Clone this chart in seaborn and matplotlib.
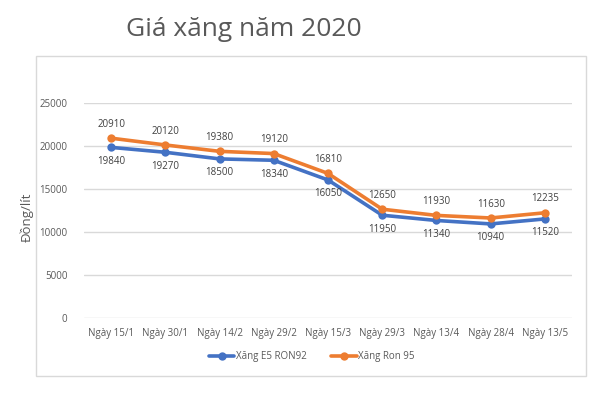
import matplotlib
matplotlib.use("Agg")
import matplotlib.pyplot as plt
import matplotlib.patches as patches
import seaborn as sns
import pandas as pd

dates = ["Ngày 15/1", "Ngày 30/1", "Ngày 14/2", "Ngày 29/2", "Ngày 15/3",
         "Ngày 29/3", "Ngày 13/4", "Ngày 28/4", "Ngày 13/5"]
e5_ron92 = [19840, 19270, 18500, 18340, 16050, 11950, 11340, 10940, 11520]
ron95 = [20910, 20120, 19380, 19120, 16810, 12650, 11930, 11630, 12235]
series_names = ["Xăng E5 RON92", "Xăng Ron 95"]
yticks = [0, 5000, 10000, 15000, 20000, 25000]

df = pd.DataFrame({
    "date": dates * 2,
    "value": e5_ron92 + ron95,
    "series": [series_names[0]] * len(dates) + [series_names[1]] * len(dates),
})

sns.set_theme(style="white")
plt.rcParams["font.family"] = ["Open Sans", "DejaVu Sans"]

text_color = "#595959"
colors = {series_names[0]: "#4472C4", series_names[1]: "#ED7D31"}

fig = plt.figure(figsize=(6.12, 4.13), dpi=100)
ax = fig.add_axes([84 / 612, 1 - 318 / 413, 488 / 612, 215 / 413])

sns.lineplot(data=df, x="date", y="value", hue="series", palette=colors,
             marker="o", markersize=6, markeredgewidth=0, linewidth=2.6,
             sort=False, ax=ax, legend=False)

ax.set_xlim(-0.5, len(dates) - 0.5)
ax.set_ylim(0, 25000)
ax.set_yticks(yticks)
ax.set_yticklabels([str(t) for t in yticks])
ax.yaxis.grid(True, color="#D9D9D9", linewidth=1)
ax.xaxis.grid(False)
for s in ax.spines.values():
    s.set_visible(False)
ax.tick_params(axis="both", length=0, labelsize=7, labelcolor=text_color)
ax.tick_params(axis="y", pad=12)
ax.tick_params(axis="x", pad=7)
ax.set_xlabel("")
ax.set_ylabel("")

for i, (a, b) in enumerate(zip(e5_ron92, ron95)):
    ax.annotate(str(b), (i, b), xytext=(0, 10), textcoords="offset points",
                ha="center", va="center", fontsize=7, color="#404040")
    ax.annotate(str(a), (i, a), xytext=(0, -10), textcoords="offset points",
                ha="center", va="center", fontsize=7, color="#404040")

fig.text(27 / 612, 1 - 217 / 413, "Đồng/lít", rotation=90, ha="center",
         va="center", fontsize=9.5, color=text_color)

fig.text(244 / 612, 1 - 30 / 413, "Giá xăng năm 2020", ha="center",
         va="center", fontsize=19, color=text_color)

border = patches.Rectangle((36 / 612, 1 - 376 / 413), 550 / 612, 320 / 413,
                           transform=fig.transFigure, fill=False,
                           edgecolor="#D9D9D9", linewidth=1)
fig.patches.append(border)

handles = [plt.Line2D([], [], color=colors[n], marker="o", markersize=6,
                      markeredgewidth=0, linewidth=2.6) for n in series_names]
leg = fig.legend(handles, series_names, loc="center",
                 bbox_to_anchor=(312 / 612, 1 - 357 / 413), ncol=2,
                 frameon=False, fontsize=7, handlelength=2.6,
                 handletextpad=0.2, columnspacing=2.5)
for t in leg.get_texts():
    t.set_color(text_color)

fig.savefig("out.png", dpi=100, facecolor="white")
